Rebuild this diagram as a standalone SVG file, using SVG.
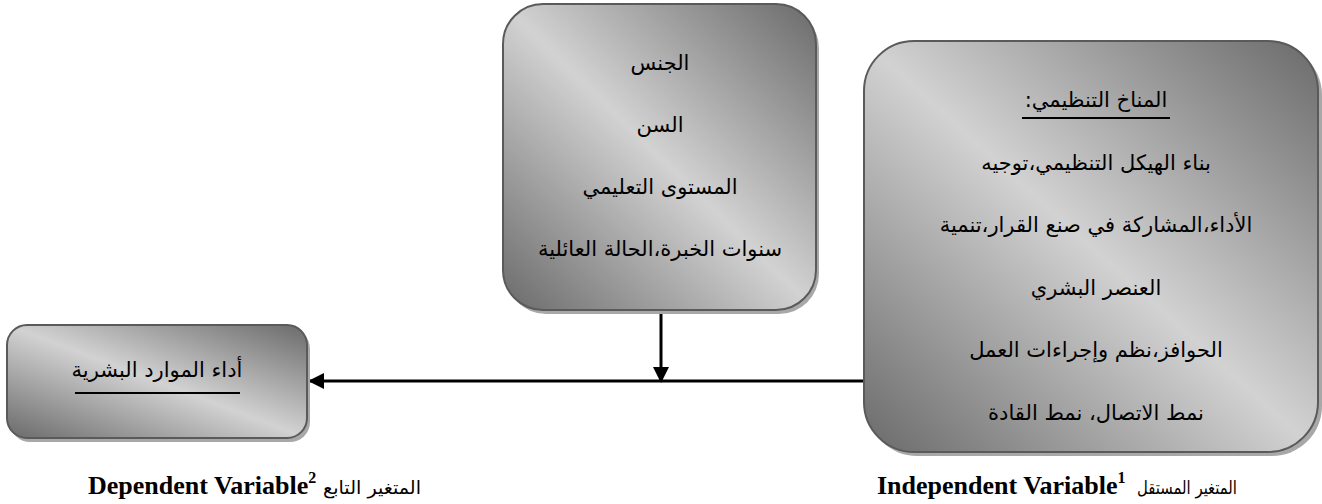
<svg xmlns="http://www.w3.org/2000/svg" width="1322" height="504" viewBox="0 0 1322 504">
<defs>
<linearGradient id="g" x1="1" y1="0" x2="0" y2="1">
<stop offset="0" stop-color="#6a6a6a"/>
<stop offset="0.5" stop-color="#d2d2d2"/>
<stop offset="1" stop-color="#6a6a6a"/>
</linearGradient>
<marker id="ah" markerWidth="16" markerHeight="16" refX="14" refY="8" orient="auto" markerUnits="userSpaceOnUse">
<path d="M0,0 L16,8 L0,16 Z" fill="#000"/>
</marker>
<style>
.box{fill:url(#g);stroke:#5a5a5a;stroke-width:2}
.sh{fill:#a8a8a8}
.ar{font-family:'DejaVu Sans',sans-serif;font-size:21px;fill:#000;text-anchor:middle;direction:rtl}
.lb{font-family:'DejaVu Sans',sans-serif;font-size:18px;fill:#000;text-anchor:middle;direction:rtl}
.en{font-family:'Liberation Serif',serif;font-size:26px;font-weight:bold;fill:#000}
.ul{stroke:#000;stroke-width:2}
.cn{stroke:#000;stroke-width:3;fill:none}
</style>
</defs>
<rect width="1322" height="504" fill="#fff"/>
<g id="connectors">
<line class="cn" x1="864" y1="381" x2="310" y2="381" marker-end="url(#ah)"/>
<line class="cn" x1="661" y1="310" x2="661" y2="381" marker-end="url(#ah)"/>
</g>
<g id="node-demographics">
<rect class="sh" x="506" y="8" width="313" height="306" rx="40"/>
<rect class="box" x="503" y="4" width="313" height="306" rx="40"/>
<text class="ar" x="660" y="70">الجنس</text>
<text class="ar" x="660" y="132">السن</text>
<text class="ar" x="660" y="194">المستوى التعليمي</text>
<text class="ar" x="660" y="256">سنوات الخبرة،الحالة العائلية</text>
</g>
<g id="node-climate">
<rect class="sh" x="867" y="45" width="455" height="411" rx="50"/>
<rect class="box" x="864" y="41" width="454" height="411" rx="50"/>
<text class="ar" x="1096" y="107">المناخ التنظيمي:</text>
<line class="ul" x1="1022" y1="118" x2="1170" y2="118"/>
<text class="ar" x="1096" y="170">بناء الهيكل التنظيمي،توجيه</text>
<text class="ar" x="1096" y="232">الأداء،المشاركة في صنع القرار،تنمية</text>
<text class="ar" x="1096" y="295">العنصر البشري</text>
<text class="ar" x="1096" y="357">الحوافز،نظم وإجراءات العمل</text>
<text class="ar" x="1096" y="420">نمط الاتصال، نمط القادة</text>
</g>
<g id="node-performance">
<rect class="sh" x="10" y="329" width="300" height="113" rx="20"/>
<rect class="box" x="7" y="325" width="300" height="113" rx="20"/>
<text class="ar" x="157" y="377">أداء الموارد البشرية</text>
<line class="ul" x1="75" y1="393" x2="240" y2="393"/>
</g>
<g id="label-independent">
<text class="en" x="877" y="494">Independent Variable<tspan font-size="16" dy="-11">1</tspan></text>
<text class="lb" x="1187" y="494" textLength="100" lengthAdjust="spacingAndGlyphs">المتغير المستقل</text>
</g>
<g id="label-dependent">
<text class="en" x="88" y="494">Dependent Variable<tspan font-size="16" dy="-11">2</tspan></text>
<text class="lb" x="372" y="494" textLength="98" lengthAdjust="spacingAndGlyphs">المتغير التابع</text>
</g>
</svg>
